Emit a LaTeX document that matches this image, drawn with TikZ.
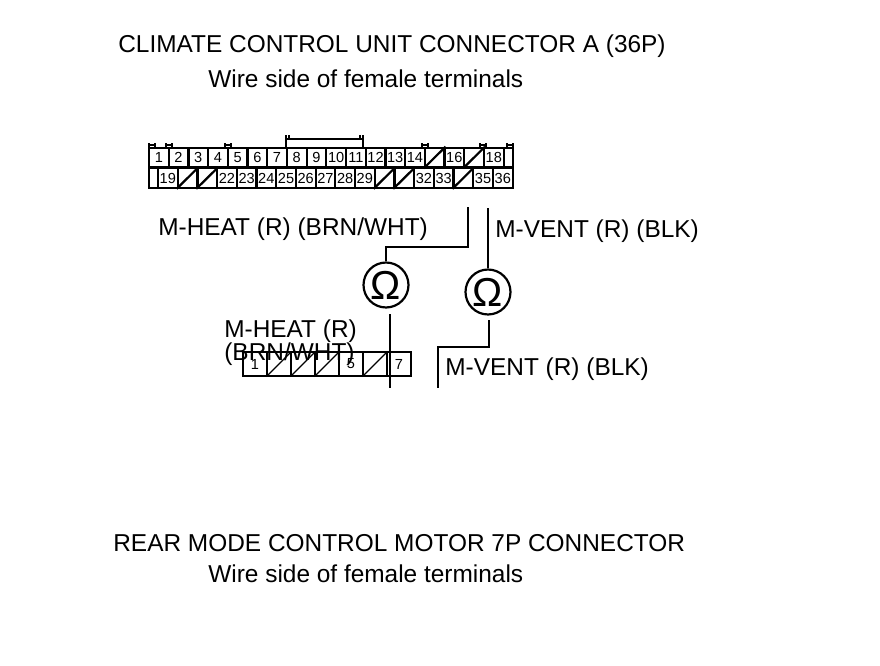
\documentclass[tikz,border=0pt]{standalone}
\usepackage{fontspec}
\setmainfont{Liberation Sans}
\tikzset{
  pin/.style={draw,line width=1.25pt,minimum width=0.394cm,minimum height=0.39cm,inner sep=0pt,font=\fontsize{8.3}{9}\selectfont},
  stub/.style={draw,line width=1.25pt,minimum height=0.39cm,minimum width=0.18cm,inner sep=0pt},
  lowpin/.style={draw,line width=0.7pt,minimum width=0.48cm,minimum height=0.48cm,inner sep=0pt,font=\fontsize{8.3}{9}\selectfont},
  wire/.style={line width=1.25pt},
  tab/.style={line width=1.1pt},
  meter/.style={circle,draw,line width=1.25pt,minimum size=0.9cm,inner sep=0pt,font=\fontsize{23}{23}\selectfont},
  caption/.style={anchor=base west,inner sep=0pt,font=\fontsize{13.9}{15}\selectfont}
}
\begin{document}
\begin{tikzpicture}[x=0.02cm,y=-0.02cm]
    \useasboundingbox (0,0) rectangle (880,666);
    % 36P connector
    \foreach \i in {1,...,14,16,18}
      \node[pin] (a\i) at ({149+19.7*(\i-0.5)},157.5) {\i};
    \foreach \i in {15,17} {
      \node[pin] (a\i) at ({149+19.7*(\i-0.5)},157.5) {};
      \draw[line width=1.25pt] (a\i.south west) -- (a\i.north east);
    }
    \foreach \i in {19,22,23,...,29,32,33,35,36}
      \node[pin] (a\i) at ({158+19.7*(\i-18.5)},178) {\i};
    \foreach \i in {20,21,30,31,34} {
      \node[pin] (a\i) at ({158+19.7*(\i-18.5)},178) {};
      \draw[line width=1.25pt] (a\i.south west) -- (a\i.north east);
    }
    \node[stub] (aEndT) at (508.5,157.5) {};
    \node[stub] (aEndB) at (153.5,178) {};

    % latch marks
    \foreach \x in {152,169,228,425,483,510}
      \draw[tab] (\x-3,148) -- (\x-3,143) (\x+3,148) -- (\x+3,143) (\x-4,145) -- (\x+4,145);
    \coordinate (bL) at (286,148);
    \coordinate (bLt) at (286,135);
    \coordinate (bR) at (363,148);
    \coordinate (bRt) at (363,135);
    \draw[wire] (bL) -- (bLt) (bR) -- (bRt);
    \draw[wire] (bLt |- 0,139) -- (bRt |- 0,139);
    \draw[tab] (289,135) -- (289,140) (360,135) -- (360,140);

    % 7P connector
    \foreach \i in {1,5,7}
      \node[lowpin] (b\i) at ({243+24*(\i-0.5)},364) {\i};
    \foreach \i in {2,3,4,6} {
      \node[lowpin] (b\i) at ({243+24*(\i-0.5)},364) {};
      \draw[line width=0.7pt] (b\i.south west) -- (b\i.north east);
    }

    % texts
    \node[caption] (tTop) at (118,52) {CLIMATE CONTROL UNIT CONNECTOR A (36P)};
    \node[caption] (tTopSide) at (208,87) {Wire side of female terminals};
    \node[caption] (lHeat) at (158,235) {M-HEAT (R) (BRN/WHT)};
    \node[caption] (lVent) at (495,237) {M-VENT (R) (BLK)};
    \node[caption] (lHeatA) at (224,337) {M-HEAT (R)};
    \node[caption] (lHeatB) at (224,360) {(BRN/WHT)};
    \node[caption] (lVentB) at (445,375) {M-VENT (R) (BLK)};
    \node[caption] (tLow) at (113,551) {REAR MODE CONTROL MOTOR 7P CONNECTOR};
    \node[caption] (tLowSide) at (208,582) {Wire side of female terminals};

    % meters and wires
    \node[meter] (mHeat) at (386,285) {Ω};
    \node[meter] (mVent) at (488,292) {Ω};
    \coordinate (hTop) at (468,207);
    \coordinate (hBend) at (468,247);
    \coordinate (hLow) at (390,314);
    \coordinate (hEnd) at (390,388);
    \coordinate (vTop) at (488,208);
    \coordinate (vLow) at (489,320);
    \coordinate (vBend) at (489,347);
    \coordinate (vCorner) at (438,347);
    \coordinate (vEnd) at (438,388);
    \draw[wire] (hTop) -- (hBend) -| (mHeat.north);
    \draw[wire] (vTop) -- (mVent.north);
    \draw[wire] (hLow) -- (hEnd);
    \draw[wire] (vLow) -- (vBend) -- (vCorner) -- (vEnd);
  \end{tikzpicture}
\end{document}
